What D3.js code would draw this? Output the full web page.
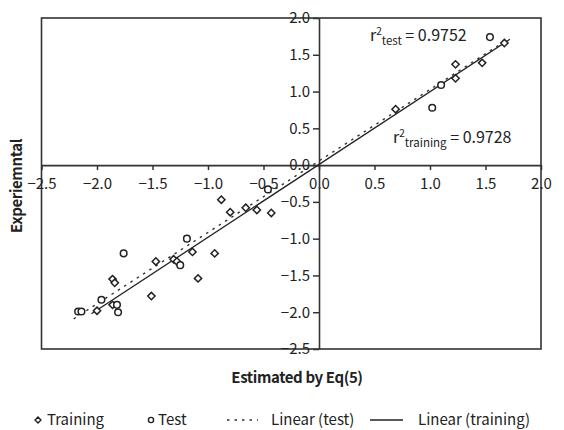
<!DOCTYPE html>
<html>
<head>
<meta charset="utf-8">
<script src="https://cdn.jsdelivr.net/npm/d3@7"></script>
<style>
  body { margin: 0; background: #fff; }
  svg text { font-family: "Noto Sans CJK KR", "Noto Sans", sans-serif; fill: #222; }
</style>
</head>
<body>
<div id="canvas"></div>
<script>
// data
var training = [
  [-2.00,-1.98], [-1.86,-1.55], [-1.84,-1.60], [-1.86,-1.90], [-1.51,-1.78],
  [-1.47,-1.31], [-1.31,-1.28], [-1.28,-1.31], [-1.14,-1.18], [-1.09,-1.54],
  [-0.94,-1.20], [-0.88,-0.47], [-0.80,-0.64], [-0.66,-0.58], [-0.56,-0.61],
  [-0.43,-0.65], [0.69,0.76], [1.23,1.37], [1.23,1.18], [1.47,1.39], [1.67,1.66]
];
var test = [
  [-2.17,-1.99], [-2.14,-1.99], [-1.96,-1.83], [-1.82,-1.90], [-1.81,-2.00],
  [-1.76,-1.20], [-1.25,-1.36], [-1.19,-1.00], [-0.46,-0.33], [1.02,0.78],
  [1.10,1.09], [1.54,1.74]
];
var lineTraining = [[-2.05,-2.02], [1.72,1.71]];
var lineTest = [[-2.21,-2.09], [1.62,1.63]];
var xTicks = [-2.5,-2,-1.5,-1,-0.5,0,0.5,1,1.5,2];
var yTicks = [-2.5,-2,-1.5,-1,-0.5,0,0.5,1,1.5,2];

var W = 564, H = 430;
var m = {t:18, r:23, b:81, l:41.5},
    w = W - m.l - m.r,
    h = H - m.t - m.b;

var svg = d3.select('#canvas').append('svg')
  .attr('width', W).attr('height', H);

var plot = svg.append('g')
  .attr('transform', 'translate(' + m.l + ',' + m.t + ')');

var scaleX = d3.scaleLinear().domain([-2.5, 2]).range([0, w]);
var scaleY = d3.scaleLinear().domain([-2.5, 2]).range([h, 0]);
var fmt = d3.format('.1f');

// frame
plot.append('rect')
  .attr('x', 0).attr('y', 0).attr('width', w).attr('height', h)
  .attr('fill', 'none').attr('stroke', '#333').attr('stroke-width', 1.6);

// axes through the origin
var xAxis = d3.axisBottom(scaleX).tickValues(xTicks).tickFormat(fmt).tickSizeInner(5).tickSizeOuter(0).tickPadding(8);
var yAxis = d3.axisLeft(scaleY).tickValues(yTicks).tickFormat(fmt).tickSizeInner(6).tickSizeOuter(0).tickPadding(3);

var gx = plot.append('g').attr('transform', 'translate(0,' + scaleY(0) + ')').call(xAxis);
var gy = plot.append('g').attr('transform', 'translate(' + scaleX(0) + ',0)').call(yAxis);

[gx, gy].forEach(function(g) {
  g.select('.domain').attr('stroke', '#333').attr('stroke-width', 1.6);
  g.selectAll('.tick line').attr('stroke', '#333').attr('stroke-width', 1.5);
  g.selectAll('.tick text').style('font-size', '15px').attr('fill', '#222');
});

// regression lines
var line = d3.line()
  .x(function(d) { return scaleX(d[0]); })
  .y(function(d) { return scaleY(d[1]); });

plot.append('path').datum(lineTest)
  .attr('d', line).attr('fill', 'none')
  .attr('stroke', '#333').attr('stroke-width', 1.4)
  .attr('stroke-dasharray', '2.5,5');

plot.append('path').datum(lineTraining)
  .attr('d', line).attr('fill', 'none')
  .attr('stroke', '#222').attr('stroke-width', 1.3);

// markers
var diamond = d3.symbol().type(d3.symbolDiamond2).size(34);

plot.selectAll('.train').data(training).enter()
  .append('path').attr('class', 'train')
  .attr('d', diamond)
  .attr('transform', function(d) { return 'translate(' + scaleX(d[0]) + ',' + scaleY(d[1]) + ')'; })
  .attr('fill', '#fff').attr('stroke', '#222').attr('stroke-width', 1.5);

plot.selectAll('.test').data(test).enter()
  .append('circle').attr('class', 'test')
  .attr('cx', function(d) { return scaleX(d[0]); })
  .attr('cy', function(d) { return scaleY(d[1]); })
  .attr('r', 3.3)
  .attr('fill', '#fff').attr('stroke', '#222').attr('stroke-width', 1.5);

// r2 annotations
function r2(x, y, sub, val) {
  var t = svg.append('text').attr('x', x).attr('y', y).style('font-size', '16px');
  t.append('tspan').text('r');
  t.append('tspan').attr('dy', -6).style('font-size', '10px').text('2');
  t.append('tspan').attr('dy', 10).style('font-size', '11.5px').text(sub);
  t.append('tspan').attr('dy', -4).text(' = ' + val);
}
r2(370, 41, 'test', '0.9752');
r2(393, 143, 'training', '0.9728');

// axis titles
svg.append('text')
  .attr('x', 297).attr('y', 383)
  .attr('text-anchor', 'middle')
  .style('font-size', '15px').style('font-weight', 'bold')
  .style('letter-spacing', '-0.4px')
  .text('Estimated by Eq(5)');

svg.append('text')
  .attr('transform', 'translate(22,186) rotate(-90)')
  .attr('text-anchor', 'middle')
  .style('font-size', '15px').style('font-weight', 'bold')
  .style('letter-spacing', '-0.4px')
  .text('Experiemntal');

// legend
var ly = 425;
var leg = svg.append('g');
leg.append('path').attr('d', d3.symbol().type(d3.symbolDiamond2).size(22))
  .attr('transform', 'translate(38,' + (ly - 5) + ')')
  .attr('fill', '#fff').attr('stroke', '#222').attr('stroke-width', 1.4);
leg.append('text').attr('x', 47).attr('y', ly).style('font-size', '15px').text('Training');

leg.append('circle').attr('cx', 151).attr('cy', ly - 5).attr('r', 2.6)
  .attr('fill', '#fff').attr('stroke', '#222').attr('stroke-width', 1.4);
leg.append('text').attr('x', 158).attr('y', ly).style('font-size', '15px').text('Test');

leg.append('line').attr('x1', 227).attr('x2', 258).attr('y1', ly - 5).attr('y2', ly - 5)
  .attr('stroke', '#333').attr('stroke-width', 1.4).attr('stroke-dasharray', '2.5,5');
leg.append('text').attr('x', 271).attr('y', ly).style('font-size', '15px').text('Linear (test)');

leg.append('line').attr('x1', 370).attr('x2', 403).attr('y1', ly - 5).attr('y2', ly - 5)
  .attr('stroke', '#222').attr('stroke-width', 1.4);
leg.append('text').attr('x', 418).attr('y', ly).style('font-size', '15px').text('Linear (training)');
</script>
</body>
</html>
